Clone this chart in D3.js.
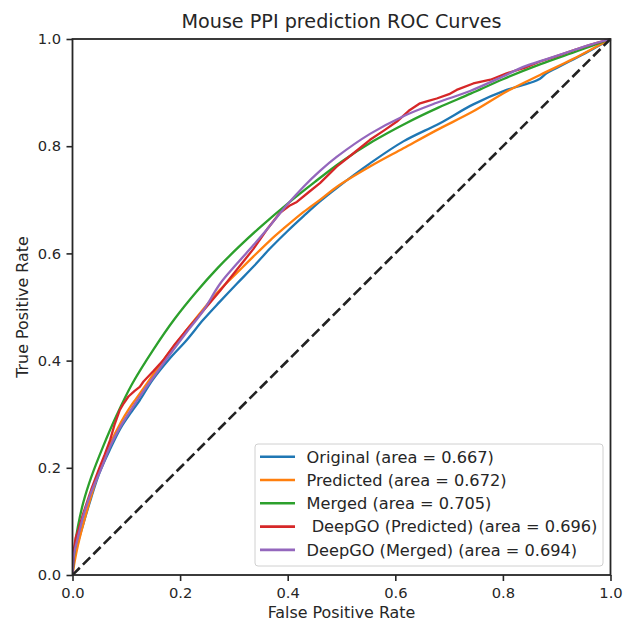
<!DOCTYPE html>
<html>
<head>
<meta charset="utf-8">
<script src="https://cdn.jsdelivr.net/npm/d3@7"></script>
<style>
html,body{margin:0;padding:0;background:#fff;}
svg{display:block;font-family:"DejaVu Sans",sans-serif;}
</style>
</head>
<body>
<svg id="chart" width="624" height="622"></svg>
<script>
const title = "Mouse PPI prediction ROC Curves";
const xLabel = "False Positive Rate";
const yLabel = "True Positive Rate";
const tickValues = [0, 0.2, 0.4, 0.6, 0.8, 1.0];
const seriesNames = ["Original (area = 0.667)", "Predicted (area = 0.672)", "Merged (area = 0.705)", " DeepGO (Predicted) (area = 0.696)", "DeepGO (Merged) (area = 0.694)"];
const seriesColors = ["#1f77b4", "#ff7f0e", "#2ca02c", "#d62728", "#9467bd"];

const originalFpr = [0,0.003,0.01,0.02,0.035,0.05,0.07,0.09,0.11,0.125,0.149,0.18,0.212,0.243,0.274,0.305,0.336,0.367,0.398,0.429,0.46,0.491,0.553,0.615,0.683,0.745,0.807,0.85,0.869,0.881,0.9,0.931,0.965,1];
const originalTpr = [0,0.03,0.06,0.095,0.145,0.19,0.235,0.275,0.305,0.326,0.364,0.403,0.438,0.476,0.51,0.543,0.575,0.609,0.64,0.669,0.697,0.722,0.768,0.809,0.843,0.878,0.905,0.918,0.926,0.936,0.946,0.962,0.98,1];

const predictedFpr = [0,0.004,0.01,0.02,0.035,0.05,0.07,0.09,0.105,0.119,0.15,0.18,0.212,0.243,0.274,0.305,0.336,0.367,0.392,0.429,0.46,0.491,0.553,0.615,0.677,0.745,0.807,0.869,0.931,1];
const predictedTpr = [0,0.025,0.055,0.095,0.148,0.195,0.245,0.285,0.31,0.33,0.374,0.416,0.457,0.496,0.532,0.563,0.594,0.624,0.646,0.677,0.70,0.724,0.762,0.796,0.83,0.865,0.902,0.933,0.963,1];

const mergedFpr = [0,0.005,0.01,0.02,0.035,0.057,0.082,0.11,0.15,0.19,0.23,0.27,0.31,0.35,0.4,0.45,0.5,0.56,0.62,0.68,0.74,0.8,0.87,0.94,1];
const mergedTpr = [0,0.058,0.09,0.135,0.183,0.24,0.298,0.355,0.42,0.478,0.528,0.573,0.613,0.65,0.693,0.733,0.771,0.81,0.843,0.872,0.898,0.925,0.953,0.978,1];

const deepgoPredFpr = [0,0.003,0.006,0.011,0.02,0.035,0.05,0.06,0.07,0.078,0.088,0.095,0.104,0.115,0.125,0.132,0.15,0.169,0.19,0.212,0.243,0.274,0.305,0.336,0.361,0.385,0.405,0.417,0.44,0.46,0.491,0.52,0.553,0.58,0.603,0.625,0.646,0.66,0.677,0.7,0.714,0.745,0.777,0.807,0.84,0.869,0.9,0.931,0.965,1];
const deepgoPredTpr = [0,0.05,0.07,0.084,0.115,0.16,0.2,0.225,0.252,0.28,0.308,0.32,0.333,0.343,0.351,0.361,0.38,0.401,0.43,0.457,0.493,0.53,0.569,0.608,0.644,0.675,0.69,0.696,0.715,0.731,0.762,0.785,0.812,0.83,0.846,0.866,0.88,0.884,0.889,0.897,0.905,0.917,0.924,0.936,0.946,0.958,0.968,0.979,0.99,1];

const deepgoMergedFpr = [0,0.003,0.01,0.02,0.033,0.054,0.07,0.088,0.11,0.132,0.144,0.18,0.212,0.243,0.274,0.305,0.336,0.364,0.4,0.429,0.46,0.491,0.553,0.615,0.677,0.739,0.8,0.838,0.88,0.931,0.965,1];
const deepgoMergedTpr = [0,0.04,0.07,0.11,0.15,0.2,0.24,0.275,0.31,0.343,0.36,0.41,0.453,0.493,0.543,0.58,0.615,0.648,0.692,0.724,0.754,0.78,0.823,0.856,0.881,0.903,0.93,0.948,0.962,0.979,0.99,1];

const seriesFpr = [originalFpr, predictedFpr, mergedFpr, deepgoPredFpr, deepgoMergedFpr];
const seriesTpr = [originalTpr, predictedTpr, mergedTpr, deepgoPredTpr, deepgoMergedTpr];
const chanceLine = [0, 1];

const svg = d3.select("#chart");
const L = 72.5, R = 610.5, T = 39, B = 575;
const x = d3.scaleLinear().domain([0, 1]).range([L, R]);
const y = d3.scaleLinear().domain([0, 1]).range([B, T]);
const textColor = "#262626";

svg.append("defs").append("clipPath").attr("id", "clip")
  .append("rect").attr("x", L).attr("y", T - 2).attr("width", R - L + 2).attr("height", B - T + 2);

const plot = svg.append("g").attr("clip-path", "url(#clip)");

seriesFpr.forEach((fpr, i) => {
  const pts = fpr.map((f, j) => [f, seriesTpr[i][j]]);
  const gen = d3.line().x(d => x(d[0])).y(d => y(d[1]))
    .curve(i === 3 ? d3.curveLinear : d3.curveCatmullRom.alpha(0.5));
  plot.append("path")
    .attr("d", gen(pts))
    .attr("fill", "none")
    .attr("stroke", seriesColors[i])
    .attr("stroke-width", 2.3)
    .attr("stroke-linejoin", "round");
});

plot.append("path")
  .attr("d", d3.line().x(d => x(d)).y(d => y(d))(chanceLine))
  .attr("fill", "none")
  .attr("stroke", "#222")
  .attr("stroke-width", 2.6)
  .attr("stroke-dasharray", "10.3,4.4");

// axes
const xAxis = svg.append("g").attr("transform", `translate(0,${B})`)
  .call(d3.axisBottom(x).tickValues(tickValues).tickFormat(d3.format(".1f")).tickSize(6).tickPadding(6.5));
const yAxis = svg.append("g").attr("transform", `translate(${L},0)`)
  .call(d3.axisLeft(y).tickValues(tickValues).tickFormat(d3.format(".1f")).tickSize(6).tickPadding(5.5));
[xAxis, yAxis].forEach(a => {
  a.select(".domain").remove();
  a.selectAll(".tick line").attr("stroke", textColor).attr("stroke-width", 1.6);
  a.selectAll(".tick text").attr("fill", textColor).style("font-size", "14.7px").style("font-family", "DejaVu Sans");
});

// frame
svg.append("rect").attr("x", L).attr("y", T).attr("width", R - L).attr("height", B - T)
  .attr("fill", "none").attr("stroke", textColor).attr("stroke-width", 1.8);

// title & labels
svg.append("text").attr("x", (L + R) / 2).attr("y", 28).attr("text-anchor", "middle")
  .attr("fill", textColor).style("font-size", "19.2px").text(title);
svg.append("text").attr("x", (L + R) / 2).attr("y", 618).attr("text-anchor", "middle")
  .attr("fill", textColor).style("font-size", "15.9px").text(xLabel);
svg.append("text").attr("transform", `translate(28,${(T + B) / 2}) rotate(-90)`).attr("text-anchor", "middle")
  .attr("fill", textColor).style("font-size", "15.9px").text(yLabel);

// legend
const lg = svg.append("g");
lg.append("rect").attr("x", 255).attr("y", 444).attr("width", 348).attr("height", 122)
  .attr("rx", 3).attr("fill", "#fff").attr("fill-opacity", 0.8).attr("stroke", "#d0d0d0").attr("stroke-width", 1);
seriesNames.forEach((name, i) => {
  const yy = 456.7 + i * 23.3;
  lg.append("line").attr("x1", 260).attr("x2", 295).attr("y1", yy).attr("y2", yy)
    .attr("stroke", seriesColors[i]).attr("stroke-width", 2.6);
  lg.append("text").attr("x", 306.5).attr("y", yy + 5.8).attr("fill", textColor)
    .style("font-size", "16.2px").style("white-space", "pre").attr("xml:space", "preserve").text(name);
});
</script>
</body>
</html>
